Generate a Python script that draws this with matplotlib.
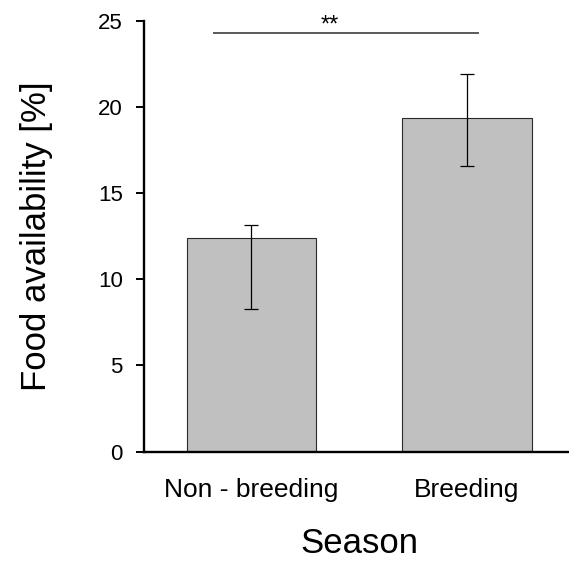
import matplotlib
matplotlib.use('Agg')
import matplotlib.pyplot as plt

plt.rcParams['font.family'] = ['Liberation Sans', 'DejaVu Sans']

# 계절별 먹이 가용성 (평균, 오차 하한/상한)
seasons = ['Non - breeding', 'Breeding']
means = [12.4, 19.35]
err_low = [8.3, 16.6]
err_high = [13.15, 21.9]
yticks = [0, 5, 10, 15, 20, 25]
sig_text = '**'
sig_y = 24.3

x = list(range(len(seasons)))
yerr = [[m - lo for m, lo in zip(means, err_low)],
        [hi - m for m, hi in zip(means, err_high)]]

fig = plt.figure(figsize=(5.69, 5.63), dpi=100)
ax = fig.add_axes([0.2526, 0.1977, 0.7574, 0.7655])

ax.bar(x, means, width=0.6, color='#c0c0c0', edgecolor='#2a2a2a', linewidth=0.8, zorder=2)
ax.errorbar(x, means, yerr=yerr, fmt='none', ecolor='black', elinewidth=0.9,
            capsize=5.3, capthick=0.9, zorder=3)

# 유의성 표시 선
ax.plot([-0.174, 1.053], [sig_y, sig_y], color='#5a5a5a', linewidth=1.4, clip_on=False)
ax.text(0.363, sig_y + 0.1, sig_text, ha='center', va='baseline', fontsize=17)

ax.set_xlim(-0.5, 1.5)
ax.set_ylim(0, 25)
ax.set_yticks(yticks)
ax.set_xticks(x)
ax.set_xticklabels(seasons, fontsize=19)
ax.tick_params(axis='x', length=0, pad=19)
ax.tick_params(axis='y', direction='out', length=6, width=1.4, pad=9, labelsize=16)

for side in ['top', 'right']:
    ax.spines[side].set_visible(False)
for side in ['left', 'bottom']:
    ax.spines[side].set_linewidth(1.7)

ax.set_ylabel('Food availability [%]', fontsize=25)
ax.yaxis.set_label_coords(-0.21, 0.5)
ax.set_xlabel('Season', fontsize=25)
ax.xaxis.set_label_coords(0.5, -0.175)

fig.savefig('out.png', dpi=100)
